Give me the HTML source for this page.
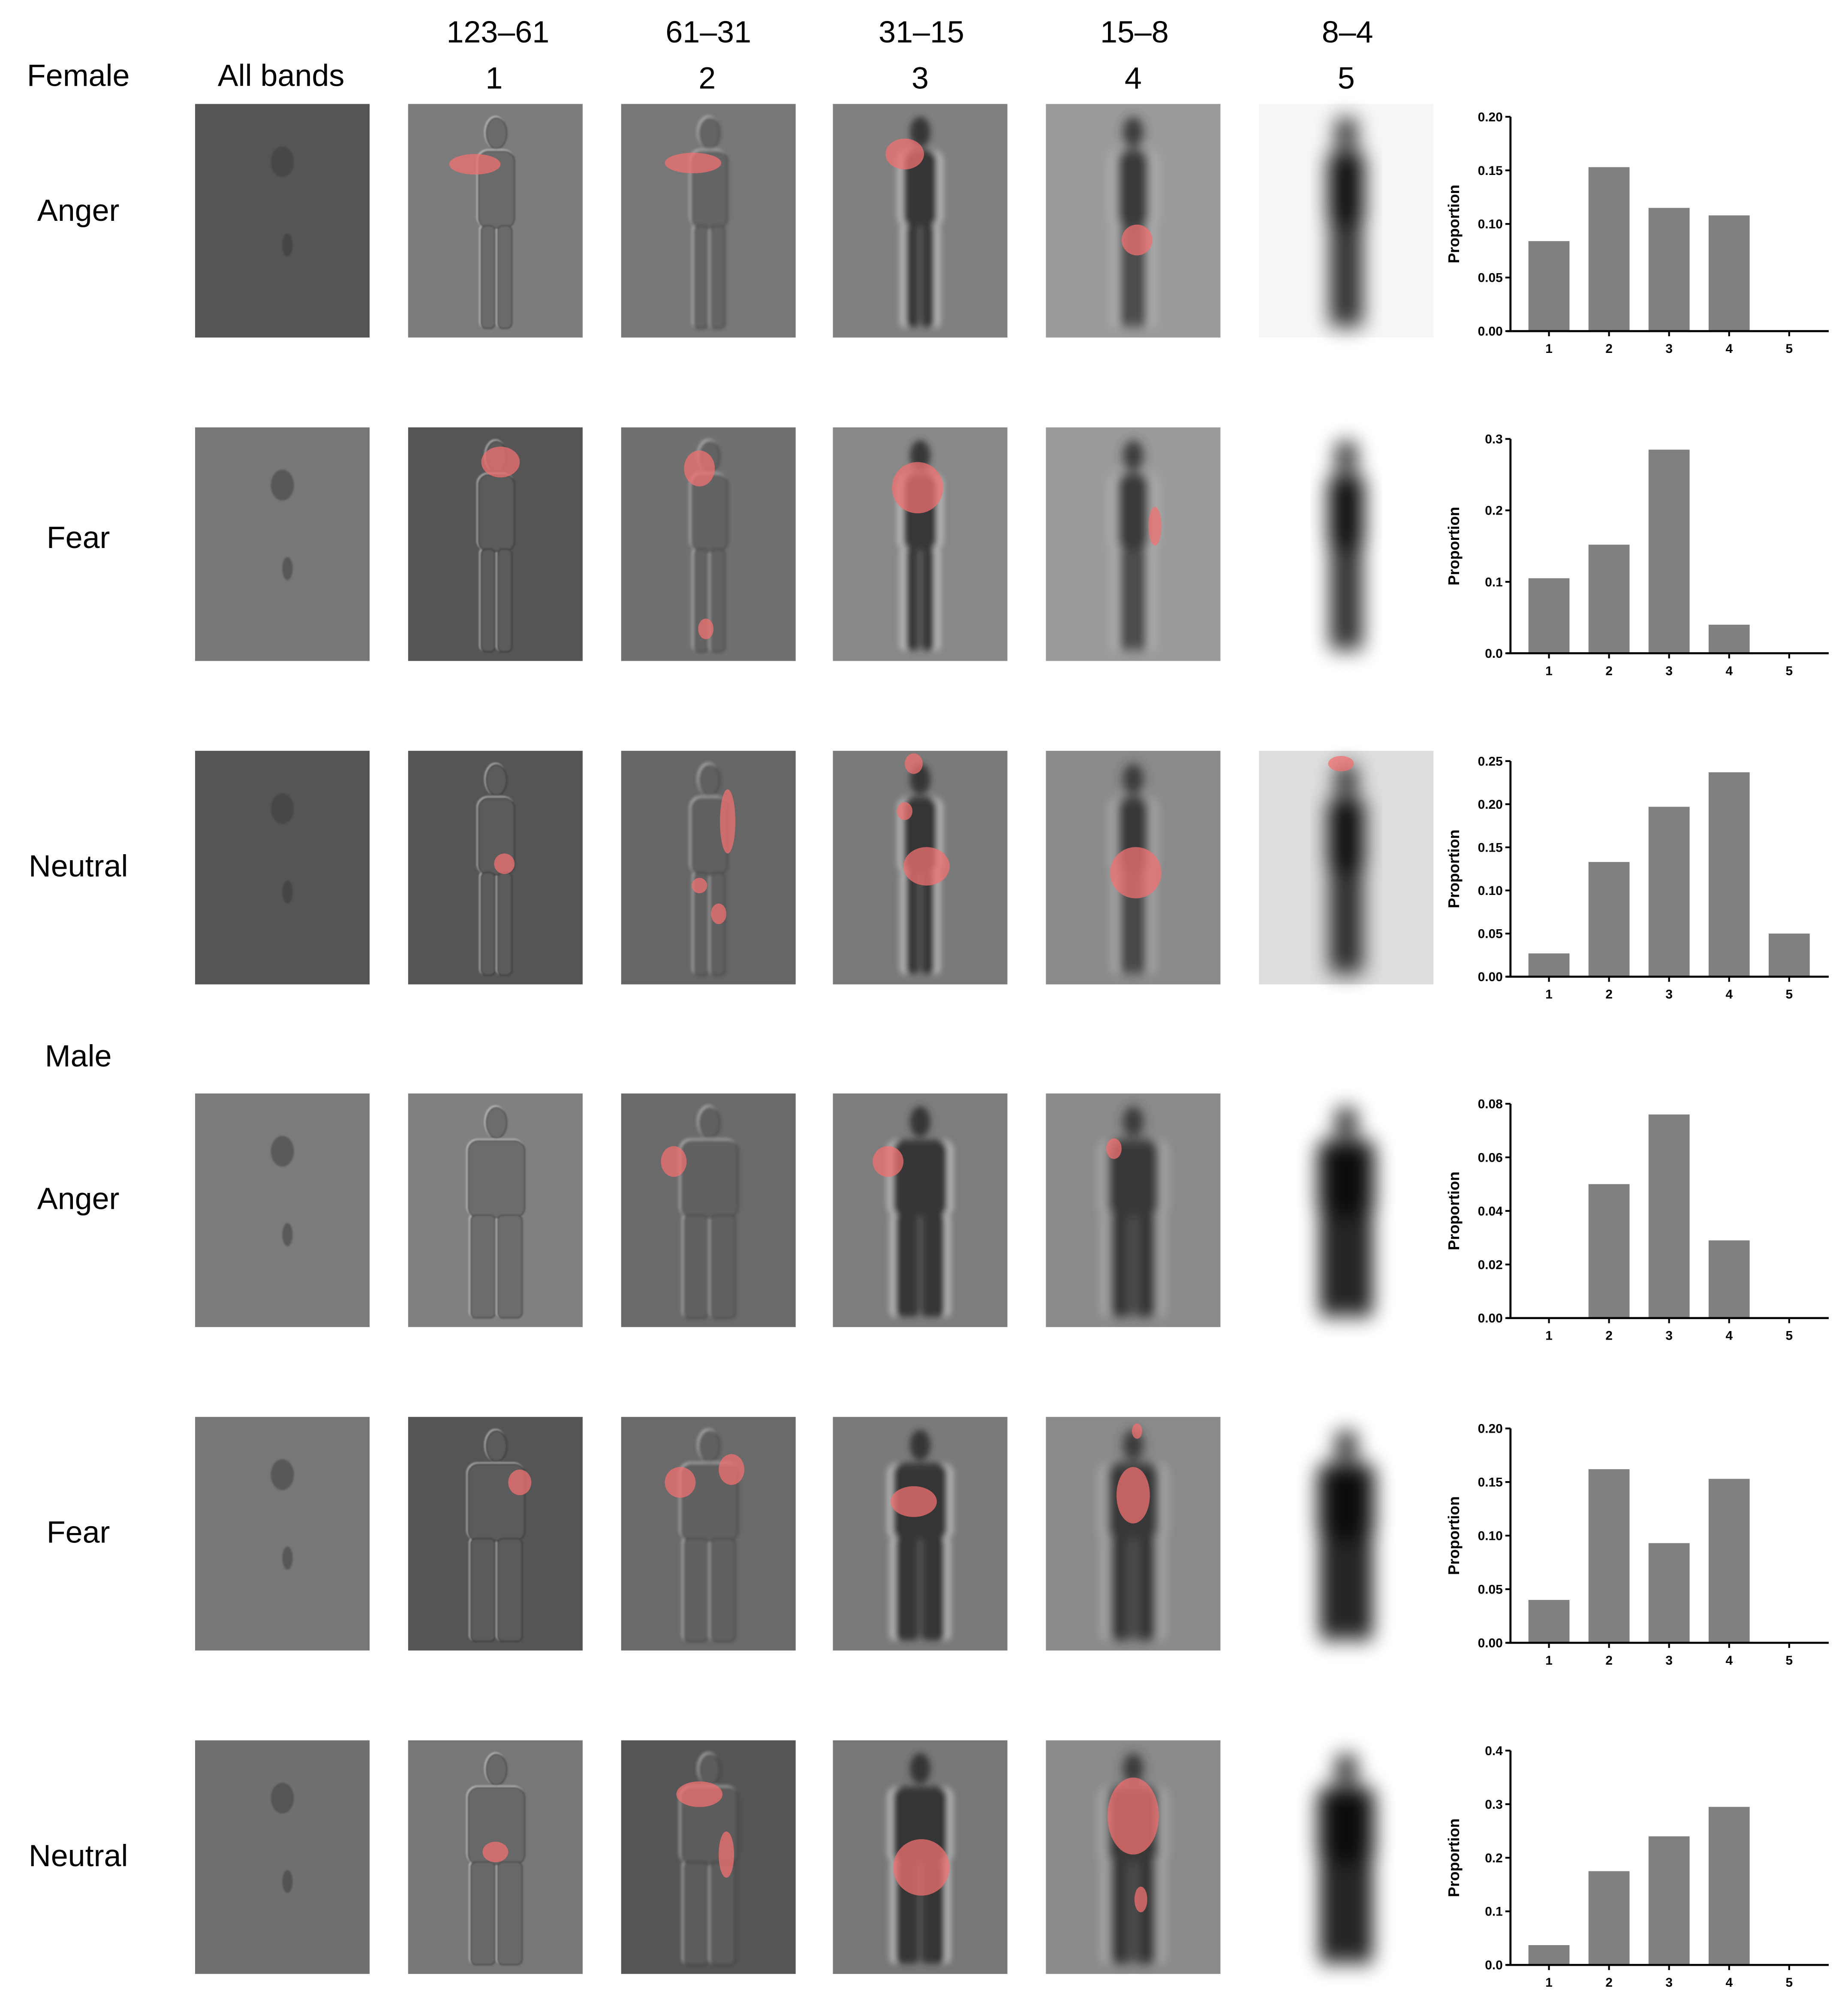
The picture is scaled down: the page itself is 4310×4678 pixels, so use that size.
<!DOCTYPE html>
<html><head><meta charset="utf-8">
<style>
html,body{margin:0;padding:0;background:#fff;}
svg{display:block;}
.hdr{font-family:"Liberation Sans",sans-serif;font-size:24px;fill:#000;text-anchor:middle;}
.tick{font-family:"Liberation Sans",sans-serif;font-size:10px;font-weight:bold;fill:#000;}
.ylab{font-family:"Liberation Sans",sans-serif;font-size:12px;font-weight:bold;fill:#000;text-anchor:middle;}
</style></head>
<body>
<svg id="fig" width="4310" height="4678" viewBox="0 0 1440 1563" xmlns="http://www.w3.org/2000/svg">
<defs>
<filter id="b1" x="-50%" y="-50%" width="200%" height="200%"><feGaussianBlur stdDeviation="0.6"/></filter>
<filter id="b2" x="-50%" y="-50%" width="200%" height="200%"><feGaussianBlur stdDeviation="1.2"/></filter>
<filter id="b3" x="-50%" y="-50%" width="200%" height="200%"><feGaussianBlur stdDeviation="2.5"/></filter>
<filter id="b4" x="-50%" y="-50%" width="200%" height="200%"><feGaussianBlur stdDeviation="4"/></filter>
<filter id="b5" x="-50%" y="-50%" width="200%" height="200%"><feGaussianBlur stdDeviation="8"/></filter>
</defs>
<g>
<text class="hdr" x="61" y="67">Female</text>
<text class="hdr" x="219" y="67">All bands</text>
<text class="hdr" x="388" y="33">123–61</text>
<text class="hdr" x="385" y="69">1</text>
<text class="hdr" x="552" y="33">61–31</text>
<text class="hdr" x="551" y="69">2</text>
<text class="hdr" x="718" y="33">31–15</text>
<text class="hdr" x="717" y="69">3</text>
<text class="hdr" x="884" y="33">15–8</text>
<text class="hdr" x="883" y="69">4</text>
<text class="hdr" x="1050" y="33">8–4</text>
<text class="hdr" x="1049" y="69">5</text>
</g>
<g>
<text class="hdr" x="61" y="172">Anger</text>
<text class="hdr" x="61" y="427">Fear</text>
<text class="hdr" x="61" y="683">Neutral</text>
<text class="hdr" x="61" y="831">Male</text>
<text class="hdr" x="61" y="942">Anger</text>
<text class="hdr" x="61" y="1202">Fear</text>
<text class="hdr" x="61" y="1454">Neutral</text>
</g>
<g id="panels"></g>
<g id="charts"></g>
</svg>
<script>
// ---- chart data ----
const categories = ["1","2","3","4","5"];
const femaleAnger = [0.084,0.153,0.115,0.108,0];
const femaleFear = [0.105,0.152,0.285,0.040,0];
const femaleNeutral = [0.027,0.133,0.197,0.237,0.050];
const maleAnger = [0,0.050,0.076,0.029,0];
const maleFear = [0.040,0.162,0.093,0.153,0];
const maleNeutral = [0.037,0.175,0.240,0.295,0];
const yMaxes = [0.20,0.3,0.25,0.08,0.20,0.4];
const yTickSteps = [0.05,0.1,0.05,0.02,0.05,0.1];
const tickDecimals = [2,1,2,2,2,1];
const seriesList = [femaleAnger,femaleFear,femaleNeutral,maleAnger,maleFear,maleNeutral];
const chartNames = ["female-anger","female-fear","female-neutral","male-anger","male-fear","male-neutral"];

const NS="http://www.w3.org/2000/svg";
function mk(tag,attrs,parent){const e=document.createElementNS(NS,tag);for(const k in attrs)e.setAttribute(k,attrs[k]);parent.appendChild(e);return e;}

// ---- image panels ----
const colX=[152,318,484,649,815,981];
const rowY=[81,333,585,852,1104,1356];
const PW=136, PH=182;
const bgs=[
["#555","#7c7c7c","#777","#808080","#9a9a9a","#f6f6f6"],
["#777","#555","#707070","#888","#9a9a9a","#fff"],
["#555","#555","#666","#7a7a7a","#8a8a8a","#ddd"],
["#7b7b7b","#808080","#6a6a6a","#7d7d7d","#8a8a8a","#fff"],
["#777","#555","#6a6a6a","#7a7a7a","#8a8a8a","#fff"],
["#707070","#777","#555","#777","#8a8a8a","#fff"]];
const reds=[
[[],[[370,128,20,8]],[[540,127,22,8]],[[705,120,15,12]],[[886,187,12,12]],[]],
[[],[[390,360,15,12]],[[545,365,12,14],[550,490,6,8]],[[715,380,20,20]],[[900,410,5,15]],[]],
[[],[[393,673,8,8]],[[567,640,6,25],[545,690,6,6],[560,712,6,8]],[[712,595,7,8],[705,632,6,7],[722,675,18,15]],[[885,680,20,20]],[[1045,595,10,6]]],
[[],[],[[525,905,10,12]],[[692,905,12,12]],[[868,895,6,8]],[]],
[[],[[405,1155,9,10]],[[530,1155,12,12],[570,1145,10,12]],[[712,1170,18,12]],[[883,1165,13,22],[886,1115,4,6]],[]],
[[],[[386,1443,10,8]],[[545,1398,18,10],[566,1445,6,18]],[[718,1455,22,22]],[[883,1415,20,30],[889,1480,5,10]],[]]];
const panelsG=document.getElementById('panels');
function figure(g,cx,y,bw,fill,stroke,sw){
  const a={fill:fill};
  if(stroke){a.stroke=stroke;a['stroke-width']=sw;}
  mk('ellipse',Object.assign({cx:cx,cy:y+22,rx:8,ry:12},a),g);
  mk('rect',Object.assign({x:cx-bw,y:y+36,width:bw*2,height:60,rx:8},a),g);
  mk('rect',Object.assign({x:cx-bw+2,y:y+94,width:bw-3,height:80,rx:4},a),g);
  mk('rect',Object.assign({x:cx+1,y:y+94,width:bw-3,height:80,rx:4},a),g);
}
for(let r=0;r<6;r++){for(let c=0;c<6;c++){
  const x=colX[c], y=rowY[r], cx=x+PW/2;
  const g=mk('g',{},panelsG);
  
  
  const rect=mk('rect',{x:x,y:y,width:PW,height:PH,fill:bgs[r][c]},g);
  
  
  const male=r>=3;
  const bw=male?22:14;
  if(c===0){
    mk('ellipse',{cx:cx,cy:y+45,rx:9,ry:12,fill:"#3a3a3a",opacity:0.5,filter:"url(#b1)"},g);
    mk('ellipse',{cx:cx+4,cy:y+110,rx:4,ry:9,fill:"#333",opacity:0.45,filter:"url(#b1)"},g);
  } else if(c<=2){
    const fg=mk('g',{filter:'url(#b'+c+')'},g);
    figure(fg,cx,y,bw,"none","#dcdcdc",1.6);
    figure(fg,cx+0.8,y+0.8,bw,"#5e5e5e","#2a2a2a",1);
    fg.setAttribute('opacity', c===1?0.6:0.75);
  } else if(c<=4){
    const fg=mk('g',{filter:'url(#b'+c+')'},g);
    figure(fg,cx,y,bw+3,"#e6e6e6",null,0);
    figure(fg,cx,y,bw,"#2c2c2c",null,0);
    fg.setAttribute('opacity',0.85);
  } else {
    const fg=mk('g',{filter:'url(#b5)'},g);
    figure(fg,cx,y,bw,"#050505",null,0);
    fg.setAttribute('opacity',0.95);
  }
  for(const b of reds[r][c]){
    mk('ellipse',{cx:b[0],cy:b[1],rx:b[2],ry:b[3],fill:"#f07070",opacity:0.75},g);
  }
}}

// ---- bar charts ----
const chartsG=document.getElementById('charts');
const axisX0=1177, axisX1=1425;
const chartTops=[91,342,593,860,1113,1364];
const chartBottoms=[258,509,761,1027,1280,1531];
function xScale(i){return 1207+i*46.8;}
for(let k=0;k<6;k++){
  const vals=seriesList[k], ymax=yMaxes[k], top=chartTops[k], bot=chartBottoms[k];
  const yScale=v=>bot-(v/ymax)*(bot-top);
  const g=mk('g',{},chartsG);
  
  
  vals.forEach((v,i)=>{
    const h=bot-yScale(v);
    if(h<=0) return;
    const bar=mk('rect',{x:xScale(i)-16,y:yScale(v),width:32,height:h,fill:"#808080"},g);
    
    
  });
  const ya=mk('line',{x1:axisX0,y1:top,x2:axisX0,y2:bot,stroke:"#000","stroke-width":1.6},g);
  
  
  const xa=mk('line',{x1:axisX0-3,y1:bot,x2:axisX1,y2:bot,stroke:"#000","stroke-width":1.6},g);
  
  
  const step=yTickSteps[k];
  const n=Math.round(ymax/step);
  for(let t=0;t<=n;t++){
    const v=t*step, yy=yScale(v);
    mk('line',{x1:axisX0-4,y1:yy,x2:axisX0,y2:yy,stroke:"#000","stroke-width":1.4},g);
    const tl=mk('text',{x:axisX0-6,y:yy+3.5,class:"tick","text-anchor":"end"},g);
    tl.textContent=v.toFixed(tickDecimals[k]);
    
    
  }
  categories.forEach((cname,i)=>{
    mk('line',{x1:xScale(i),y1:bot,x2:xScale(i),y2:bot+4,stroke:"#000","stroke-width":1.4},g);
    const tl=mk('text',{x:xScale(i),y:bot+17,class:"tick","text-anchor":"middle"},g);
    tl.textContent=cname;
    
    
  });
  const yl=mk('text',{x:0,y:0,class:"ylab",transform:"translate(1137,"+((top+bot)/2)+") rotate(-90)"},g);
  yl.textContent="Proportion";
  
  
}
</script>
</body></html>
